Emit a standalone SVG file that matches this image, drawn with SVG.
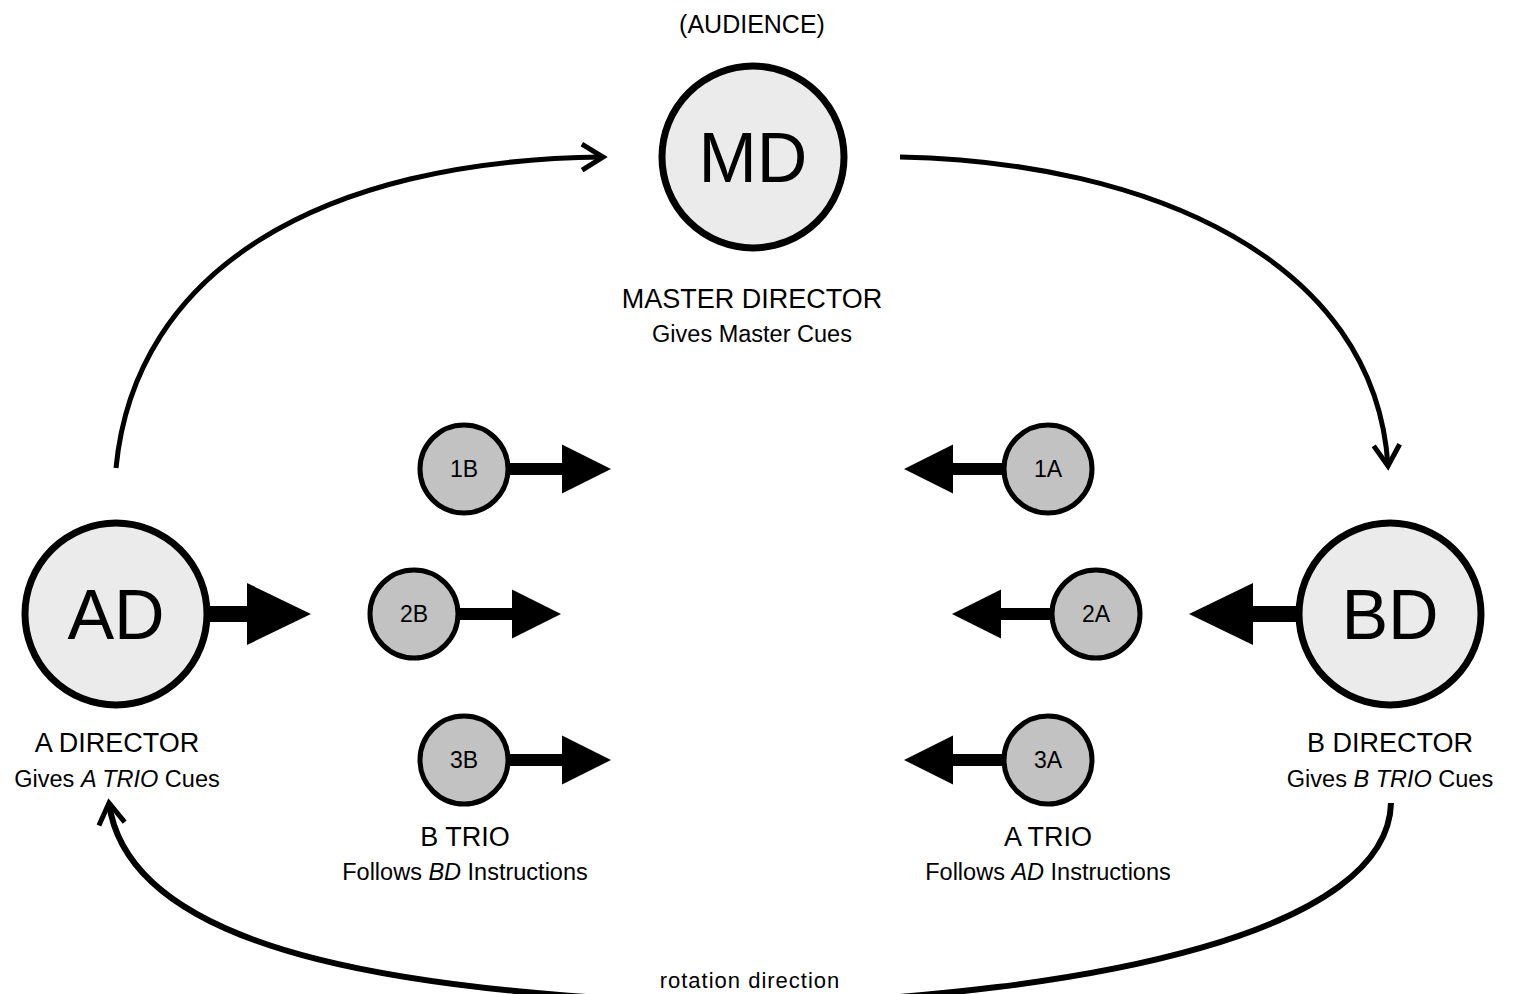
<svg xmlns="http://www.w3.org/2000/svg" xmlns:xlink="http://www.w3.org/1999/xlink" width="1515" height="994" viewBox="0 0 1515 994">
<style>
text{font-family:"Liberation Sans",Arial,sans-serif;fill:#000;text-anchor:middle}
.big{fill:#ebebeb;stroke:#000;stroke-width:7}
.small{fill:#c2c2c2;stroke:#000;stroke-width:5}
.bl{font-size:70px}
.sl{font-size:23px}
.title{font-size:27px}
.sub{font-size:23.5px}
.curve{fill:none;stroke:#000;stroke-width:5}
.fat{fill:#000}
</style>
<defs>
<marker id="chev" markerUnits="userSpaceOnUse" markerWidth="40" markerHeight="40" refX="0" refY="0" viewBox="-30 -20 40 40" orient="auto" overflow="visible">
<path d="M-21,-13 L0,0 L-21,13" fill="none" stroke="#000" stroke-width="5"/>
</marker>
<path id="bigArrow" d="M0,-8 H47 V-31 L111,0 L47,31 V8 H0 Z"/>
<path id="smallArrow" d="M0,-6 H57 V-24.5 L106,0 L57,24.5 V6 H0 Z"/>
</defs>
<g id="connectors">
<path class="curve" d="M116,468 C135,270 320,160 603,157" marker-end="url(#chev)"/>
<path class="curve" d="M900,157 C1150,162 1375,260 1388,466" marker-end="url(#chev)"/>
<path class="curve" style="stroke-width:6" d="M1391,803 C1388,930 1100,995 750,1005 C430,995 130,960 109,803" marker-end="url(#chev)"/>
<use class="fat" xlink:href="#bigArrow" transform="translate(200,614)"/>
<use class="fat" xlink:href="#bigArrow" transform="translate(1300,614) scale(-1,1)"/>
<use class="fat" xlink:href="#smallArrow" transform="translate(505,469)"/>
<use class="fat" xlink:href="#smallArrow" transform="translate(455,614)"/>
<use class="fat" xlink:href="#smallArrow" transform="translate(505,760)"/>
<use class="fat" xlink:href="#smallArrow" transform="translate(1010,469) scale(-1,1)"/>
<use class="fat" xlink:href="#smallArrow" transform="translate(1058,614) scale(-1,1)"/>
<use class="fat" xlink:href="#smallArrow" transform="translate(1010,760) scale(-1,1)"/>
</g>
<g id="audience"><text x="752" y="33" style="font-size:25px">(AUDIENCE)</text></g>
<g id="MD">
<circle class="big" cx="753" cy="157" r="91"/>
<text class="bl" x="753" y="182">MD</text>
<text class="title" x="752" y="308">MASTER DIRECTOR</text>
<text class="sub" x="752" y="342">Gives Master Cues</text>
</g>
<g id="AD">
<circle class="big" cx="116" cy="614" r="91"/>
<text class="bl" x="116" y="639">AD</text>
<text class="title" x="117" y="752">A DIRECTOR</text>
<text class="sub" x="117" y="787">Gives <tspan font-style="italic">A TRIO</tspan> Cues</text>
</g>
<g id="BD">
<circle class="big" cx="1390" cy="614" r="91"/>
<text class="bl" x="1390" y="639">BD</text>
<text class="title" x="1390" y="752">B DIRECTOR</text>
<text class="sub" x="1390" y="787">Gives <tspan font-style="italic">B TRIO</tspan> Cues</text>
</g>
<g id="n1B"><circle class="small" cx="464" cy="469" r="44"/><text class="sl" x="464" y="477">1B</text></g>
<g id="n2B"><circle class="small" cx="414" cy="614" r="44"/><text class="sl" x="414" y="622">2B</text></g>
<g id="n3B"><circle class="small" cx="464" cy="760" r="44"/><text class="sl" x="464" y="768">3B</text></g>
<g id="n1A"><circle class="small" cx="1048" cy="469" r="44"/><text class="sl" x="1048" y="477">1A</text></g>
<g id="n2A"><circle class="small" cx="1096" cy="614" r="44"/><text class="sl" x="1096" y="622">2A</text></g>
<g id="n3A"><circle class="small" cx="1048" cy="760" r="44"/><text class="sl" x="1048" y="768">3A</text></g>
<g id="btrio">
<text class="title" x="465" y="846">B TRIO</text>
<text class="sub" x="465" y="880">Follows <tspan font-style="italic">BD</tspan> Instructions</text>
</g>
<g id="atrio">
<text class="title" x="1048" y="846">A TRIO</text>
<text class="sub" x="1048" y="880">Follows <tspan font-style="italic">AD</tspan> Instructions</text>
</g>
<g id="rotation"><text x="750" y="988" style="font-size:22px;letter-spacing:1px">rotation direction</text></g>
</svg>
